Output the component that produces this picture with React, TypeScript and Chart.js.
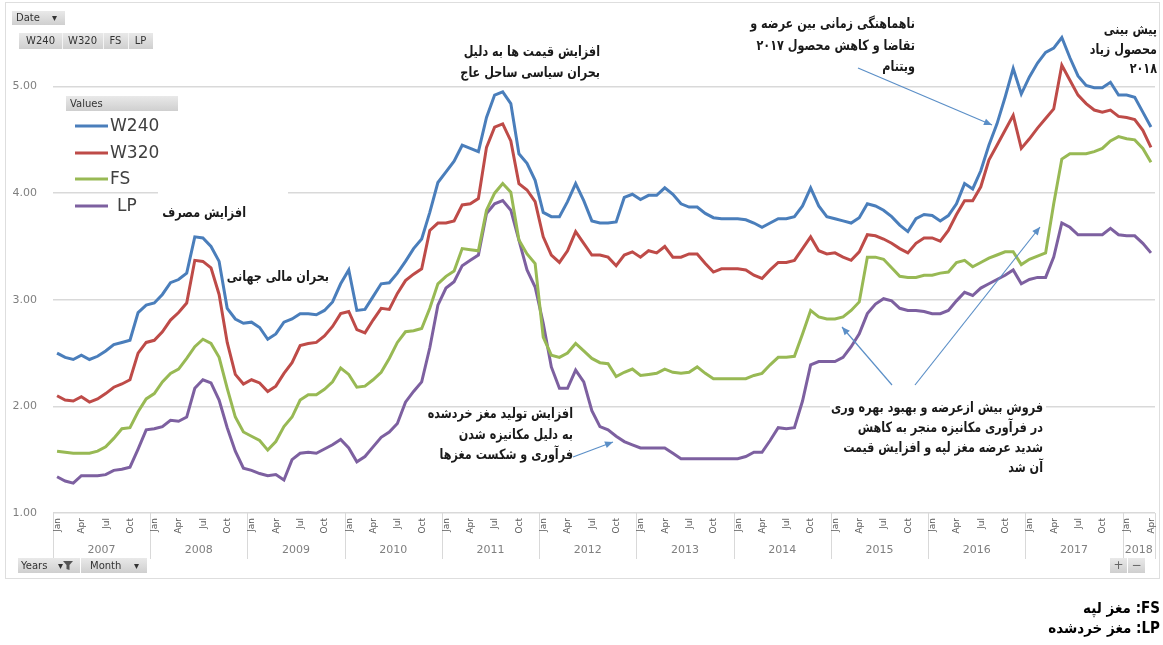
import React, { useEffect, useRef } from "react";
import { Chart, registerables } from "chart.js";
Chart.register(...registerables);

const W = 1163;
const H = 645;

const years = ["2007", "2008", "2009", "2010", "2011", "2012", "2013", "2014", "2015", "2016", "2017", "2018"];
const monthNames = ["Jan", "Feb", "Mar", "Apr", "May", "Jun", "Jul", "Aug", "Sep", "Oct", "Nov", "Dec"];
const monthsIn2018 = 4;
const yTicks = [1, 2, 3, 4, 5];

const w240 = [
  2.50, 2.46, 2.44, 2.48, 2.44, 2.47, 2.52, 2.58, 2.60, 2.62, 2.88, 2.95,
  2.97, 3.05, 3.16, 3.19, 3.25, 3.59, 3.58, 3.50, 3.36, 2.92, 2.82, 2.78,
  2.79, 2.74, 2.63, 2.68, 2.79, 2.82, 2.87, 2.87, 2.86, 2.90, 2.98, 3.15,
  3.28, 2.90, 2.91, 3.03, 3.15, 3.16, 3.25, 3.36, 3.48, 3.57, 3.82, 4.10,
  4.20, 4.30, 4.45, 4.42, 4.39, 4.71, 4.92, 4.95, 4.84, 4.37, 4.28, 4.12,
  3.82, 3.78, 3.78, 3.92, 4.09, 3.93, 3.74, 3.72, 3.72, 3.73, 3.96, 3.99,
  3.94, 3.98, 3.98, 4.05, 3.99, 3.90, 3.87, 3.87, 3.81, 3.77, 3.76, 3.76,
  3.76, 3.75, 3.72, 3.68, 3.72, 3.76, 3.76, 3.78, 3.88, 4.05, 3.88, 3.78,
  3.76, 3.74, 3.72, 3.77, 3.90, 3.88, 3.84, 3.78, 3.70, 3.64, 3.76, 3.80,
  3.79, 3.74, 3.79, 3.90, 4.09, 4.04, 4.21, 4.45, 4.65, 4.90, 5.17, 4.93,
  5.09, 5.22, 5.32, 5.36, 5.46, 5.27, 5.10, 5.01, 4.99, 4.99, 5.04, 4.92,
  4.92, 4.90, 4.76, 4.62,
];

const w320 = [
  2.10, 2.06, 2.05, 2.09, 2.04, 2.07, 2.12, 2.18, 2.21, 2.25, 2.50, 2.60,
  2.62, 2.70, 2.81, 2.88, 2.97, 3.37, 3.36, 3.30, 3.05, 2.60, 2.30, 2.21,
  2.25, 2.22, 2.14, 2.19, 2.31, 2.41, 2.57, 2.59, 2.60, 2.66, 2.75, 2.87,
  2.89, 2.72, 2.69, 2.81, 2.92, 2.91, 3.06, 3.18, 3.24, 3.29, 3.65, 3.72,
  3.72, 3.74, 3.89, 3.90, 3.95, 4.43, 4.62, 4.65, 4.49, 4.09, 4.03, 3.92,
  3.59, 3.42, 3.35, 3.46, 3.64, 3.53, 3.42, 3.42, 3.40, 3.32, 3.42, 3.45,
  3.40, 3.46, 3.44, 3.50, 3.40, 3.40, 3.43, 3.43, 3.34, 3.26, 3.29, 3.29,
  3.29, 3.28, 3.23, 3.20, 3.28, 3.35, 3.35, 3.37, 3.48, 3.59, 3.46, 3.43,
  3.44, 3.40, 3.37, 3.45, 3.61, 3.60, 3.57, 3.53, 3.48, 3.44, 3.53, 3.58,
  3.58, 3.55, 3.65, 3.80, 3.93, 3.93, 4.06, 4.31, 4.45, 4.59, 4.73, 4.42,
  4.51, 4.61, 4.70, 4.79, 5.20, 5.06, 4.92, 4.84, 4.78, 4.76, 4.78, 4.72,
  4.71, 4.69, 4.59, 4.43,
];

const fs = [
  1.58, 1.57, 1.56, 1.56, 1.56, 1.58, 1.62, 1.70, 1.79, 1.80, 1.95, 2.07,
  2.12, 2.23, 2.31, 2.35, 2.45, 2.56, 2.63, 2.59, 2.46, 2.17, 1.90, 1.76,
  1.72, 1.68, 1.59, 1.67, 1.81, 1.90, 2.06, 2.11, 2.11, 2.16, 2.23, 2.36,
  2.30, 2.18, 2.19, 2.25, 2.32, 2.45, 2.60, 2.70, 2.71, 2.73, 2.92, 3.15,
  3.22, 3.27, 3.48, 3.47, 3.46, 3.84, 4.00, 4.09, 4.01, 3.56, 3.43, 3.34,
  2.65, 2.48, 2.46, 2.50, 2.59, 2.52, 2.45, 2.41, 2.40, 2.28, 2.32, 2.35,
  2.29, 2.30, 2.31, 2.35, 2.32, 2.31, 2.32, 2.37, 2.31, 2.26, 2.26, 2.26,
  2.26, 2.26, 2.29, 2.31, 2.39, 2.46, 2.46, 2.47, 2.68, 2.90, 2.84, 2.82,
  2.82, 2.84, 2.90, 2.98, 3.40, 3.40, 3.38, 3.30, 3.22, 3.21, 3.21, 3.23,
  3.23, 3.25, 3.26, 3.35, 3.37, 3.31, 3.35, 3.39, 3.42, 3.45, 3.45, 3.33,
  3.38, 3.41, 3.44, 3.90, 4.32, 4.37, 4.37, 4.37, 4.39, 4.42, 4.49, 4.53,
  4.51, 4.50, 4.42, 4.29,
];

const lp = [
  1.34, 1.30, 1.28, 1.35, 1.35, 1.35, 1.36, 1.40, 1.41, 1.43, 1.60, 1.78,
  1.79, 1.81, 1.87, 1.86, 1.90, 2.17, 2.25, 2.22, 2.06, 1.80, 1.58, 1.42,
  1.40, 1.37, 1.35, 1.36, 1.31, 1.50, 1.56, 1.57, 1.56, 1.60, 1.64, 1.69,
  1.61, 1.48, 1.53, 1.62, 1.71, 1.76, 1.84, 2.04, 2.14, 2.23, 2.55, 2.95,
  3.11, 3.17, 3.32, 3.37, 3.42, 3.81, 3.90, 3.93, 3.84, 3.56, 3.28, 3.12,
  2.78, 2.37, 2.17, 2.17, 2.34, 2.23, 1.96, 1.81, 1.78, 1.72, 1.67, 1.64,
  1.61, 1.61, 1.61, 1.61, 1.56, 1.51, 1.51, 1.51, 1.51, 1.51, 1.51, 1.51,
  1.51, 1.53, 1.57, 1.57, 1.68, 1.80, 1.79, 1.80, 2.05, 2.39, 2.42, 2.42,
  2.42, 2.46, 2.56, 2.68, 2.87, 2.96, 3.01, 2.99, 2.92, 2.90, 2.90, 2.89,
  2.87, 2.87, 2.90, 2.99, 3.07, 3.04, 3.11, 3.15, 3.19, 3.23, 3.28, 3.15,
  3.19, 3.21, 3.21, 3.40, 3.72, 3.68, 3.61, 3.61, 3.61, 3.61, 3.67, 3.61,
  3.60, 3.60, 3.53, 3.44,
];

const seriesNames = ["W240", "W320", "FS", "LP"];
const seriesColors = ["#4a7ebb", "#be4b48", "#98b954", "#7d60a0"];

const labels: string[] = [];
years.forEach((y, yi) => {
  const n = yi === years.length - 1 ? monthsIn2018 : 12;
  for (let m = 0; m < n; m++) labels.push(monthNames[m] + " " + y);
});

const FA = "DejaVu Sans";

function rtlText(ctx: CanvasRenderingContext2D, lines: string[], right: number, ys: number[], font: string, color = "#1a1a1a", sx = 0.8) {
  ctx.save();
  ctx.font = font;
  ctx.fillStyle = color;
  ctx.direction = "rtl";
  ctx.textAlign = "right";
  ctx.textBaseline = "middle";
  lines.forEach((l, i) => {
    ctx.save();
    ctx.translate(right, ys[i]);
    ctx.scale(sx, 1);
    ctx.fillText(l, 0, 0);
    ctx.restore();
  });
  ctx.restore();
}

function arrow(ctx: CanvasRenderingContext2D, x1: number, y1: number, x2: number, y2: number) {
  ctx.save();
  ctx.strokeStyle = "#5b8fc7";
  ctx.fillStyle = "#5b8fc7";
  ctx.lineWidth = 1.2;
  ctx.beginPath();
  ctx.moveTo(x1, y1);
  ctx.lineTo(x2, y2);
  ctx.stroke();
  const a = Math.atan2(y2 - y1, x2 - x1);
  const L = 8, Wd = 3.5;
  ctx.beginPath();
  ctx.moveTo(x2, y2);
  ctx.lineTo(x2 - L * Math.cos(a) + Wd * Math.sin(a), y2 - L * Math.sin(a) - Wd * Math.cos(a));
  ctx.lineTo(x2 - L * Math.cos(a) - Wd * Math.sin(a), y2 - L * Math.sin(a) + Wd * Math.cos(a));
  ctx.closePath();
  ctx.fill();
  ctx.restore();
}

function button(ctx: CanvasRenderingContext2D, x: number, y: number, w: number, h: number) {
  const g = ctx.createLinearGradient(0, y, 0, y + h);
  g.addColorStop(0, "#e9e9e9");
  g.addColorStop(1, "#cfcfcf");
  ctx.fillStyle = g;
  ctx.fillRect(x, y, w, h);
}

const decor = {
  id: "decor",
  beforeDraw(chart: any) {
    const ctx = chart.ctx as CanvasRenderingContext2D;
    ctx.save();
    ctx.fillStyle = "#ffffff";
    ctx.fillRect(0, 0, W, H);
    ctx.strokeStyle = "#dedede";
    ctx.lineWidth = 1;
    ctx.strokeRect(5.5, 2.5, 1154, 576);
    ctx.restore();
  },
  beforeDatasetsDraw(chart: any) {
    const ctx = chart.ctx as CanvasRenderingContext2D;
    ctx.save();
    ctx.fillStyle = "#ffffff";
    ctx.fillRect(158, 186, 130, 36);
    ctx.fillRect(830, 398, 216, 80);
    ctx.restore();
  },
  afterDraw(chart: any) {
    const ctx = chart.ctx as CanvasRenderingContext2D;
    const xs = chart.scales.x;
    const area = chart.chartArea;
    const half = (xs.getPixelForValue(1) - xs.getPixelForValue(0)) / 2;
    const axisTop = area.bottom;

    // x axis box
    ctx.save();
    ctx.strokeStyle = "#d9d9d9";
    ctx.lineWidth = 1;
    let idx = 0;
    const bounds: number[] = [];
    years.forEach((y, yi) => {
      bounds.push(xs.getPixelForValue(idx) - half);
      idx += yi === years.length - 1 ? monthsIn2018 : 12;
    });
    bounds.push(xs.getPixelForValue(idx - 1) + half);
    bounds.forEach((b) => {
      ctx.beginPath();
      ctx.moveTo(Math.round(b) + 0.5, axisTop);
      ctx.lineTo(Math.round(b) + 0.5, axisTop + 46);
      ctx.stroke();
    });
    // month labels
    ctx.fillStyle = "#595959";
    ctx.font = `9px ${FA}`;
    ctx.textBaseline = "middle";
    ctx.textAlign = "right";
    labels.forEach((l, i) => {
      const m = i % 12;
      if (m % 3 !== 0) return;
      const x = xs.getPixelForValue(i);
      ctx.save();
      ctx.translate(x + 0.5, axisTop + 5);
      ctx.rotate(-Math.PI / 2);
      ctx.fillText(l.split(" ")[0], 0, 0);
      ctx.restore();
    });
    // year labels
    ctx.font = `11px ${FA}`;
    ctx.fillStyle = "#7f7f7f";
    ctx.textAlign = "center";
    years.forEach((y, yi) => {
      ctx.fillText(y, (bounds[yi] + bounds[yi + 1]) / 2, axisTop + 37);
    });
    ctx.restore();

    // buttons
    ctx.save();
    ctx.font = `10px ${FA}`;
    ctx.textBaseline = "middle";
    button(ctx, 12, 11, 53, 14);
    ctx.fillStyle = "#333";
    ctx.textAlign = "left";
    ctx.fillText("Date", 16, 18.5);
    ctx.fillText("▾", 52, 18.5);
    button(ctx, 19, 33, 134, 16);
    ctx.fillStyle = "#f4f4f4";
    [62, 103, 128].forEach((sx) => ctx.fillRect(sx, 33, 1, 16));
    ctx.fillStyle = "#333";
    ctx.textAlign = "center";
    ctx.fillText("W240", 40.5, 41.5);
    ctx.fillText("W320", 82.5, 41.5);
    ctx.fillText("FS", 115.5, 41.5);
    ctx.fillText("LP", 140.5, 41.5);
    button(ctx, 18, 558, 62, 15);
    button(ctx, 81, 558, 66, 15);
    ctx.fillStyle = "#333";
    ctx.textAlign = "left";
    ctx.fillText("Years", 21, 566);
    ctx.fillText("Month", 90, 566);
    ctx.fillText("▾", 134, 566);
    ctx.fillText("▾", 58, 566);
    ctx.beginPath();
    ctx.moveTo(63, 561); ctx.lineTo(73, 561); ctx.lineTo(69.5, 565); ctx.lineTo(69.5, 570); ctx.lineTo(66.5, 569); ctx.lineTo(66.5, 565);
    ctx.closePath();
    ctx.fillStyle = "#555";
    ctx.fill();
    button(ctx, 1110, 558, 17, 15);
    button(ctx, 1128, 558, 17, 15);
    ctx.fillStyle = "#666";
    ctx.textAlign = "center";
    ctx.font = `12px ${FA}`;
    ctx.fillText("+", 1118.5, 565.5);
    ctx.fillText("−", 1136.5, 565.5);
    ctx.restore();

    // legend
    ctx.save();
    button(ctx, 66, 96, 112, 15);
    ctx.fillStyle = "#333";
    ctx.font = `10px ${FA}`;
    ctx.textBaseline = "middle";
    ctx.textAlign = "left";
    ctx.fillText("Values", 70, 104);
    const ly = [126, 153, 179, 206];
    seriesNames.forEach((n, i) => {
      ctx.strokeStyle = seriesColors[i];
      ctx.lineWidth = 3;
      ctx.beginPath();
      ctx.moveTo(75, ly[i]);
      ctx.lineTo(108, ly[i]);
      ctx.stroke();
      ctx.fillStyle = "#404040";
      ctx.font = `17px ${FA}`;
      ctx.fillText(n, n === "LP" ? 117 : 110, ly[i] + 1);
    });
    ctx.restore();

    // annotations
    const f = `bold 14px ${FA}`;
    rtlText(ctx, ["افزایش مصرف"], 246, [213], f);
    rtlText(ctx, ["بحران مالی جهانی"], 329, [277], f);
    rtlText(ctx, ["افزایش قیمت ها به دلیل", "بحران سیاسی ساحل عاج"], 600, [52, 73], f);
    rtlText(ctx, ["ناهماهنگی زمانی بین عرضه و", "تقاضا و کاهش محصول ۲۰۱۷", "ویتنام"], 915, [24, 46, 67], f);
    rtlText(ctx, ["پیش بینی", "محصول زیاد", "۲۰۱۸"], 1157, [30, 50, 69], f);
    rtlText(ctx, ["افزایش تولید مغز خردشده", "به دلیل مکانیزه شدن", "فرآوری و شکست مغزها"], 573, [414, 435, 455], f);
    rtlText(ctx, ["فروش بیش ازعرضه و بهبود بهره وری", "در فرآوری مکانیزه منجر به کاهش", "شدید عرضه مغز لپه و افزایش قیمت", "آن شد"], 1043, [408, 428, 448, 468], f);
    arrow(ctx, 858, 68, 992, 125);
    arrow(ctx, 573, 457, 613, 442);
    arrow(ctx, 892, 385, 842, 327);
    arrow(ctx, 915, 385, 1040, 227);

    // footnote
    rtlText(ctx, ["FS: مغز لپه", "LP: مغز خردشده"], 1160, [609, 629], `bold 15px ${FA}`, "#000", 0.9);
  },
};

export default function App() {
  const ref = useRef<HTMLCanvasElement>(null);
  useEffect(() => {
    document.body.style.margin = "0";
    const series = [w240, w320, fs, lp];
    const chart = new Chart(ref.current as HTMLCanvasElement, {
      type: "line",
      data: {
        labels,
        datasets: series.map((d, i) => ({
          label: seriesNames[i],
          data: d,
          borderColor: seriesColors[i],
          backgroundColor: seriesColors[i],
          borderWidth: 3,
          pointRadius: 0,
          tension: 0,
          fill: false,
        })),
      },
      options: {
        responsive: false,
        animation: false,
        devicePixelRatio: 1,
        layout: { padding: { left: 0, right: 8, top: 11, bottom: 132 } },
        plugins: { legend: { display: false }, tooltip: { enabled: false } },
        scales: {
          x: { type: "category", display: false, offset: true },
          y: {
            min: 1,
            max: 5.6,
            afterBuildTicks: (s: any) => {
              s.ticks = yTicks.map((v) => ({ value: v }));
            },
            afterFit: (s: any) => {
              s.width = 53;
            },
            ticks: {
              callback: (v: any) => Number(v).toFixed(2),
              color: "#7f7f7f",
              font: { family: FA, size: 11 },
              padding: 16,
            },
            grid: { color: "#d9d9d9", lineWidth: 1.5, drawTicks: false },
            border: { display: false },
          },
        },
      },
      plugins: [decor],
    } as any);
    return () => chart.destroy();
  }, []);
  return (
    <div style={{ width: W, height: H, position: "relative", background: "#fff" }}>
      <canvas ref={ref} width={W} height={H} style={{ display: "block", width: W, height: H }} />
    </div>
  );
}
